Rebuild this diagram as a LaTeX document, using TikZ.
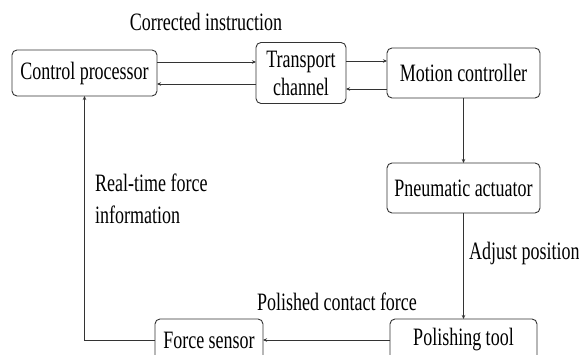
\documentclass[tikz,border=0pt]{standalone}
\usepackage{fontspec}
\setmainfont{Liberation Serif}[FakeStretch=0.72]
\usetikzlibrary{arrows.meta, positioning}

\begin{document}
\begin{tikzpicture}[
		x=1pt, y=1pt,
		font=\fontsize{25}{32}\selectfont,
		blk/.style={draw=black!80, line width=0.9pt, rounded corners=5pt, align=center, inner sep=2pt, outer sep=0pt, minimum height=46pt},
		lbl/.style={inner sep=0pt, align=left},
		arr/.style={-{Stealth[length=4pt, width=3.5pt]}, line width=0.9pt, draw=black!80}
		]
		\useasboundingbox (0,0) rectangle (579,355);
		\node[blk, minimum width=145pt] (proc) at (84.5,282) {Control processor};
		\node[blk, right=99pt of proc, minimum width=90pt, minimum height=61pt] (chan) {Transport\\[-4pt]channel};
		\node[blk, right=41pt of chan, minimum width=153pt, minimum height=50pt] (motion) {Motion controller};
		\node[blk, below=65pt of motion, minimum width=153pt, minimum height=50pt] (pneu) {Pneumatic actuator};
		\node[blk, below=106pt of pneu, minimum width=147pt, minimum height=42pt] (polish) {Polishing tool};
		\node[blk, left=127pt of polish, minimum width=108pt, minimum height=42pt] (sensor) {Force sensor};
		
		\node[lbl] (corr) at (206,333) {Corrected instruction};
		\node[lbl, anchor=west] (rtfi) at (95,156) {Real-time force\\information};
		\node[lbl, anchor=west] (adj) at (469,102) {Adjust position};
		\node[lbl] (pcf) at (337,53) {Polished contact force};
		
		\draw[arr] ([yshift=11pt]proc.east) -- ([yshift=11pt]proc.east -| chan.west);
		\draw[arr] ([yshift=-11pt]proc.east -| chan.west) -- ([yshift=-11pt]proc.east);
		\draw[arr] ([yshift=12pt]chan.east) -- ([yshift=12pt]chan.east -| motion.west);
		\draw[arr] ([yshift=-16pt]chan.east -| motion.west) -- ([yshift=-16pt]chan.east);
		\draw[arr] (motion) -- (pneu);
		\draw[arr] (pneu) -- (polish);
		\draw[arr] (polish) -- (sensor);
		\draw[arr] (sensor.west) -| (proc.south);
	\end{tikzpicture}
\end{document}
